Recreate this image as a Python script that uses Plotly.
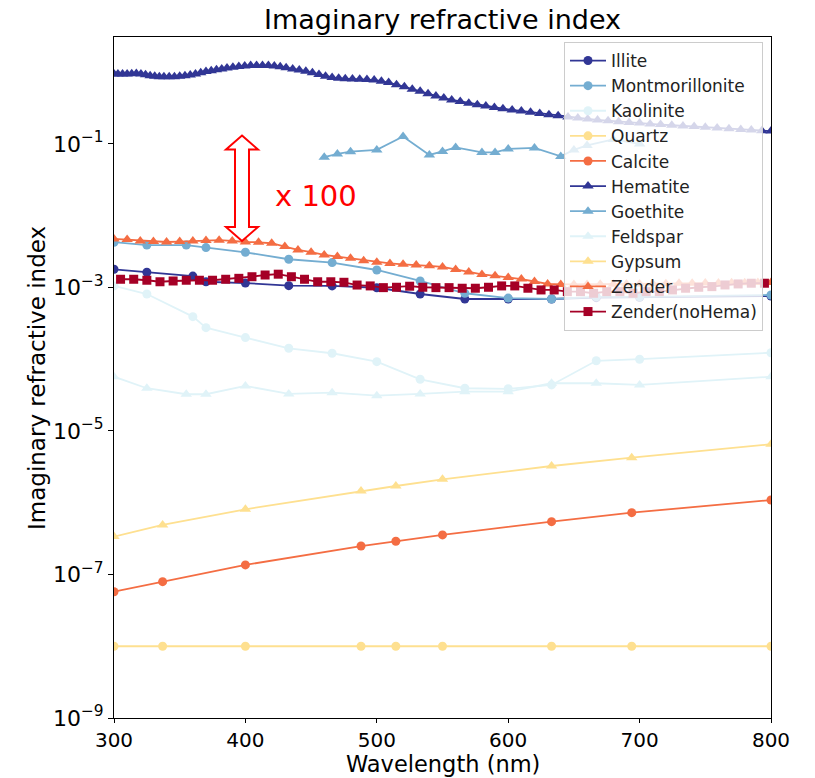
import plotly.graph_objects as go

# ---------------- data ----------------
wl_clay = [300, 325, 360, 370, 400, 433, 466, 500, 533, 567, 600, 633, 667, 700, 800]
illite = [1.79e-3, 1.63e-3, 1.44e-3, 1.20e-3, 1.15e-3, 1.06e-3, 1.05e-3, 0.99e-3, 0.81e-3,
          0.69e-3, 0.69e-3, 0.69e-3, 7.2e-4, 7.3e-4, 7.6e-4]
wl_mont = [300, 325, 355, 370, 400, 433, 466, 500, 533, 567, 600, 633, 667, 700, 800]
montmorillonite = [4.27e-3, 3.9e-3, 3.9e-3, 3.59e-3, 3.09e-3, 2.47e-3, 2.22e-3, 1.75e-3, 1.23e-3,
                   8.3e-4, 7.1e-4, 6.9e-4, 7.4e-4, 7.4e-4, 7.85e-4]
kaolinite = [1.05e-3, 8.1e-4, 3.92e-4, 2.75e-4, 2.0e-4, 1.42e-4, 1.21e-4, 9.25e-5, 5.25e-5,
             3.94e-5, 3.87e-5, 4.38e-5, 9.5e-5, 1.0e-4, 1.23e-4]
feldspar = [5.7e-5, 3.94e-5, 3.25e-5, 3.25e-5, 4.24e-5, 3.28e-5, 3.42e-5, 3.1e-5, 3.28e-5,
            3.53e-5, 3.53e-5, 4.62e-5, 4.62e-5, 4.38e-5, 5.7e-5]

wl_laser = [300, 337, 400, 488, 514.5, 550, 633, 694, 800]
quartz = [1e-8, 1e-8, 1e-8, 1e-8, 1e-8, 1e-8, 1e-8, 1e-8, 1e-8]
calcite = [5.75e-8, 7.94e-8, 1.36e-7, 2.49e-7, 2.90e-7, 3.56e-7, 5.45e-7, 7.27e-7, 1.09e-6]
gypsum = [3.37e-7, 4.9e-7, 8.1e-7, 1.46e-6, 1.71e-6, 2.12e-6, 3.25e-6, 4.25e-6, 6.53e-6]

wl_hema = [300, 303, 306.5, 310, 313.5, 317, 320.5, 324, 327.5, 331, 334.5, 338, 342, 346, 350,
           354, 358, 362, 366, 370, 374, 378, 382, 386, 390.5, 395, 399.5, 404, 408.5, 413,
           417.5, 422, 426.5, 431, 436, 441, 446, 451, 456, 461, 466, 471, 476, 481.5, 487,
           492.5, 498, 503.5, 509, 515, 521, 527, 533, 539, 545, 551, 557, 563.5, 570, 576.5,
           583, 589.5, 596, 603, 610, 617, 624, 631, 638, 645.5, 653, 660.5, 668, 676, 684,
           692, 700, 708, 716, 724.5, 733, 741.5, 750, 759, 768, 777, 785, 793, 800]
hematite = [0.945, 0.945, 0.94, 0.945, 0.95, 0.955, 0.945, 0.92, 0.89, 0.875, 0.865, 0.86, 0.86,
            0.865, 0.875, 0.89, 0.91, 0.94, 0.98, 1.02, 1.05, 1.08, 1.11, 1.14, 1.17, 1.20, 1.22,
            1.235, 1.24, 1.24, 1.235, 1.22, 1.19, 1.15, 1.11, 1.07, 1.03, 0.98, 0.93, 0.88, 0.845,
            0.82, 0.81, 0.80, 0.795, 0.79, 0.775, 0.75, 0.715, 0.67, 0.625, 0.58, 0.54, 0.50,
            0.465, 0.435, 0.41, 0.39, 0.37, 0.352, 0.337, 0.323, 0.31, 0.298, 0.287, 0.277,
            0.266, 0.255, 0.246, 0.238, 0.23, 0.223, 0.216, 0.21, 0.204, 0.199, 0.195, 0.19,
            0.186, 0.182, 0.178, 0.175, 0.171, 0.167, 0.163, 0.159, 0.156, 0.153, 0.151]

wl_goe = [460, 470, 480, 500, 520, 540, 550, 560, 580, 590, 600, 620, 640, 650, 660, 680, 700]
goethite = [0.0653, 0.0726, 0.0781, 0.0825, 0.127, 0.0703, 0.0786, 0.0894, 0.0762, 0.0762,
            0.0852, 0.088, 0.067, 0.0825, 0.0953, 0.1155, 0.10]

wl_zender = [300, 310, 320, 330, 340, 350, 360, 370, 380, 390, 400, 410, 420, 430, 440, 450,
             460, 470, 480, 490, 500, 510, 520, 530, 540, 550, 560, 570, 580, 590, 600, 610,
             620, 630, 640, 650, 660, 670, 680, 690, 700, 710, 720, 730, 740, 750, 760, 770,
             780, 790, 800]
zender = [4.74e-3, 4.64e-3, 4.45e-3, 4.35e-3, 4.3e-3, 4.35e-3, 4.45e-3, 4.5e-3, 4.55e-3,
          4.45e-3, 4.3e-3, 4.26e-3, 4.13e-3, 3.71e-3, 3.33e-3, 3.1e-3, 2.84e-3, 2.69e-3,
          2.55e-3, 2.36e-3, 2.25e-3, 2.16e-3, 2.10e-3, 2.06e-3, 2.0e-3, 1.93e-3, 1.78e-3,
          1.64e-3, 1.52e-3, 1.45e-3, 1.38e-3, 1.31e-3, 1.21e-3, 1.12e-3, 1.10e-3, 1.10e-3,
          1.10e-3, 1.11e-3, 1.11e-3, 1.12e-3, 1.12e-3, 1.13e-3, 1.13e-3, 1.14e-3, 1.14e-3,
          1.15e-3, 1.15e-3, 1.16e-3, 1.16e-3, 1.17e-3, 1.17e-3]

wl_nohema = [305, 315, 325, 335, 345, 355, 365, 375, 385, 395, 405, 415, 425, 435, 445, 455,
             465, 475, 485, 495, 505, 515, 525, 535, 545, 555, 565, 575, 585, 595, 605, 615,
             625, 635, 645, 655, 665, 675, 685, 695, 705, 715, 725, 735, 745, 755, 765, 775,
             785, 795]
zender_nohema = [1.30e-3, 1.30e-3, 1.26e-3, 1.20e-3, 1.23e-3, 1.26e-3, 1.26e-3, 1.26e-3,
                 1.30e-3, 1.34e-3, 1.41e-3, 1.49e-3, 1.53e-3, 1.41e-3, 1.30e-3, 1.20e-3,
                 1.20e-3, 1.18e-3, 1.08e-3, 1.05e-3, 0.994e-3, 1.006e-3, 1.04e-3, 1.006e-3,
                 0.994e-3, 0.994e-3, 0.975e-3, 0.975e-3, 1.006e-3, 1.05e-3, 1.05e-3, 0.975e-3,
                 0.923e-3, 0.923e-3, 0.874e-3, 0.874e-3, 0.83e-3, 0.874e-3, 0.874e-3, 0.83e-3,
                 0.874e-3, 0.874e-3, 0.923e-3, 0.975e-3, 1.006e-3, 1.026e-3, 1.083e-3,
                 1.119e-3, 1.145e-3, 1.145e-3]

y_tickvals = [1e-9, 1e-7, 1e-5, 1e-3, 1e-1]
y_ticktext = ["10<sup>\u22129</sup>", "10<sup>\u22127</sup>", "10<sup>\u22125</sup>",
              "10<sup>\u22123</sup>", "10<sup>\u22121</sup>"]
x_tickvals = [300, 400, 500, 600, 700, 800]

# ---------------- style ----------------
C1, C2, C3, C4, C5, C6 = "#313695", "#74add1", "#e0f3f8", "#fee090", "#f46d43", "#a50026"
FONT = "DejaVu Sans"
SIZES = {"circle": 9, "triangle-up": 10, "square": 9}

series = [
    ("Illite", wl_clay, illite, C1, "circle"),
    ("Montmorillonite", wl_mont, montmorillonite, C2, "circle"),
    ("Kaolinite", wl_clay, kaolinite, C3, "circle"),
    ("Quartz", wl_laser, quartz, C4, "circle"),
    ("Calcite", wl_laser, calcite, C5, "circle"),
    ("Hematite", wl_hema, hematite, C1, "triangle-up"),
    ("Goethite", wl_goe, goethite, C2, "triangle-up"),
    ("Feldspar", wl_mont, feldspar, C3, "triangle-up"),
    ("Gypsum", wl_laser, gypsum, C4, "triangle-up"),
    ("Zender", wl_zender, zender, C5, "triangle-up"),
    ("Zender(noHema)", wl_nohema, zender_nohema, C6, "square"),
]

fig = go.Figure()
for name, x, y, c, sym in series:
    fig.add_trace(go.Scatter(
        x=x, y=y, name=name, mode="lines+markers",
        line=dict(color=c, width=1.8),
        marker=dict(color=c, symbol=sym, size=SIZES[sym]),
    ))

# plot area in pixels
L, R, T, B = 114, 771, 37, 718
W, H = 815, 778


def px(xp, yp):
    return (xp - L) / (R - L), (B - yp) / (B - T)


# hollow double-headed arrow
cx = 242
pts = [(cx, 135.5), (cx + 16, 149.5), (cx + 7, 149.5), (cx + 7, 227), (cx + 16, 227),
       (cx, 241), (cx - 16, 227), (cx - 7, 227), (cx - 7, 149.5), (cx - 16, 149.5)]
path = "M " + " L ".join("%.5f,%.5f" % px(a, b) for a, b in pts) + " Z"
fig.add_shape(type="path", path=path, xref="paper", yref="paper",
              line=dict(color="red", width=2), fillcolor="white", layer="above")
ax_, ay_ = px(316, 196)
fig.add_annotation(x=ax_, y=ay_, xref="paper", yref="paper", text="x 100", showarrow=False,
                   font=dict(family=FONT, size=29, color="red"), xanchor="center",
                   yanchor="middle")

# axis titles as positioned annotations
xt_x, xt_y = px(443, 778)
fig.add_annotation(x=xt_x, y=xt_y, xref="paper", yref="paper", text="Wavelength (nm)",
                   showarrow=False, xanchor="center", yanchor="bottom", borderpad=0,
                   font=dict(family=FONT, size=22.5, color="black"))
yt_x, yt_y = px(37, 378)
fig.add_annotation(x=yt_x, y=yt_y, xref="paper", yref="paper",
                   text="Imaginary refractive index", textangle=-90,
                   showarrow=False, xanchor="center", yanchor="middle",
                   font=dict(family=FONT, size=23, color="black"))

lx, ly = px(763, 42)
fig.update_layout(
    width=W, height=H,
    margin=dict(l=L, r=W - R, t=T, b=H - B, autoexpand=False),
    paper_bgcolor="white", plot_bgcolor="white",
    font=dict(family=FONT, color="black"),
    title=dict(text="Imaginary refractive index", x=0.5, xref="paper", xanchor="center",
               y=1 - 20 / H, yref="container", yanchor="middle",
               font=dict(family=FONT, size=27, color="black")),
    legend=dict(x=lx, y=ly, xanchor="right", yanchor="top",
                bgcolor="rgba(255,255,255,0.8)", bordercolor="#cccccc", borderwidth=1,
                font=dict(family=FONT, size=17, color="#222222"), itemwidth=36,
                tracegroupgap=0),
    showlegend=True,
)
fig.update_xaxes(range=[300, 800], tickvals=x_tickvals, ticks="outside", ticklen=4,
                 tickwidth=1, tickcolor="black", showline=True, linecolor="black",
                 linewidth=1, mirror=True, showgrid=False, zeroline=False, automargin=False,
                 tickfont=dict(family=FONT, size=20, color="black"))
fig.update_yaxes(type="log", range=[-9, 0.49], tickvals=y_tickvals, ticktext=y_ticktext,
                 ticks="outside", ticklen=5, tickwidth=1, tickcolor="black", showline=True,
                 linecolor="black", linewidth=1, mirror=True, showgrid=False, zeroline=False,
                 automargin=False,
                 tickfont=dict(family=FONT, size=22, color="black"))

fig.write_html("out.html")
